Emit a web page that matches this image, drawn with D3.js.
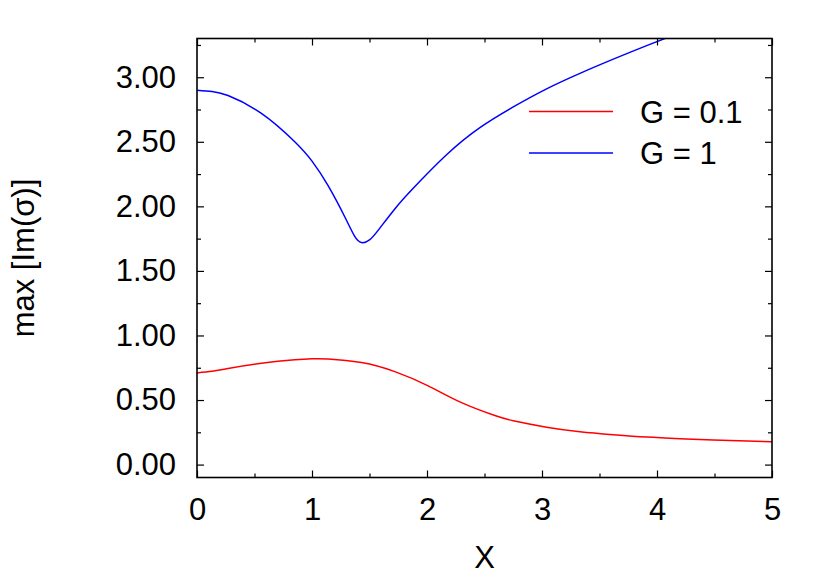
<!DOCTYPE html>
<html>
<head>
<meta charset="utf-8">
<script src="https://cdn.jsdelivr.net/npm/d3@7"></script>
<style>
body { margin: 0; background: #fff; }
svg { display: block; }
text { font-family: "Liberation Sans", Arial, Helvetica, sans-serif; fill: #000; }
</style>
</head>
<body>
<div id="chart"></div>
<script>
// series
var seriesNames = ["G = 0.1", "G = 1"];
var seriesColors = ["#ff0000", "#0000ff"];

var redX = [0, 0.13, 0.27, 0.56, 0.85, 1.0, 1.14, 1.43, 1.72, 2.01, 2.30, 2.59, 2.75, 3.04, 3.33, 3.62, 3.91, 4.20, 4.49, 5.0];
var redY = [0.71, 0.722, 0.745, 0.785, 0.812, 0.82, 0.818, 0.79, 0.72, 0.61, 0.48, 0.38, 0.34, 0.29, 0.255, 0.232, 0.213, 0.20, 0.19, 0.177];

var blueX = [0, 0.13, 0.27, 0.56, 0.85, 1.0, 1.14, 1.29, 1.37, 1.43, 1.50, 1.58, 1.72, 1.88, 2.17, 2.46, 2.75, 3.04, 3.33, 3.62, 3.91, 4.20];
var blueY = [2.90, 2.89, 2.858, 2.72, 2.50, 2.35, 2.16, 1.91, 1.77, 1.72, 1.74, 1.82, 1.98, 2.14, 2.40, 2.61, 2.77, 2.91, 3.03, 3.14, 3.245, 3.345];

var xMajor = [0, 1, 2, 3, 4, 5];
var xMinor = [0.5, 1.5, 2.5, 3.5, 4.5];
var yMajor = [0, 0.5, 1, 1.5, 2, 2.5, 3];
var yMinor = [0.25, 0.75, 1.25, 1.75, 2.25, 2.75, 3.25];

var width = 830, height = 581;
var plotLeft = 197, plotRight = 772, plotTop = 38.5, plotBottom = 477.5;

var svg = d3.select("#chart").append("svg")
    .attr("width", width)
    .attr("height", height);

var x = d3.scaleLinear().domain([0, 5]).range([plotLeft, plotRight]);
var y = d3.scaleLinear().domain([-0.1, 3.3]).range([plotBottom, plotTop]);

svg.append("clipPath").attr("id", "clip")
    .append("rect")
    .attr("x", plotLeft).attr("y", plotTop)
    .attr("width", plotRight - plotLeft).attr("height", plotBottom - plotTop);

var line = d3.line()
    .x(function(d) { return x(d[0]); })
    .y(function(d) { return y(d[1]); })
    .curve(d3.curveNatural);

var series = [d3.zip(redX, redY), d3.zip(blueX, blueY)];

svg.selectAll(".curve")
    .data(series)
    .enter().append("path")
    .attr("class", "curve")
    .attr("clip-path", "url(#clip)")
    .attr("d", line)
    .attr("fill", "none")
    .attr("stroke", function(d, i) { return seriesColors[i]; })
    .attr("stroke-width", 1.5);

// axes: ticks point inwards and are mirrored on the opposite sides
function addAxis(axis, tx, ty) {
    var g = svg.append("g")
        .attr("transform", "translate(" + tx + "," + ty + ")")
        .call(axis);
    g.select(".domain").remove();
    g.selectAll("line").attr("stroke", "#000").attr("stroke-width", 1.2);
    g.selectAll("text").attr("font-size", "31px").attr("fill", "#000").attr("font-family", null);
    return g;
}

addAxis(d3.axisBottom(x).tickValues(xMajor).tickSize(-7).tickPadding(20).tickFormat(d3.format("d")), 0, plotBottom);
addAxis(d3.axisBottom(x).tickValues(xMinor).tickSize(-4).tickFormat(""), 0, plotBottom);
addAxis(d3.axisTop(x).tickValues(xMajor).tickSize(-7).tickFormat(""), 0, plotTop);
addAxis(d3.axisTop(x).tickValues(xMinor).tickSize(-4).tickFormat(""), 0, plotTop);

addAxis(d3.axisLeft(y).tickValues(yMajor).tickSize(-7).tickPadding(21).tickFormat(d3.format(".2f")), plotLeft, 0);
addAxis(d3.axisLeft(y).tickValues(yMinor).tickSize(-4).tickFormat(""), plotLeft, 0);
addAxis(d3.axisRight(y).tickValues(yMajor).tickSize(-7).tickFormat(""), plotRight, 0);
addAxis(d3.axisRight(y).tickValues(yMinor).tickSize(-4).tickFormat(""), plotRight, 0);

svg.append("rect")
    .attr("x", plotLeft).attr("y", plotTop)
    .attr("width", plotRight - plotLeft).attr("height", plotBottom - plotTop)
    .attr("fill", "none")
    .attr("stroke", "#000")
    .attr("stroke-width", 1.6);

// axis titles
svg.append("text")
    .attr("x", (plotLeft + plotRight) / 2)
    .attr("y", 568)
    .attr("text-anchor", "middle")
    .attr("font-size", "31px")
    .text("X");

svg.append("text")
    .attr("transform", "translate(34," + (plotTop + plotBottom) / 2 + ") rotate(-90)")
    .attr("text-anchor", "middle")
    .attr("font-size", "31px")
    .text("max [Im(\u03c3)]");

// legend
var legend = svg.selectAll(".legend")
    .data(seriesNames)
    .enter().append("g")
    .attr("class", "legend")
    .attr("transform", function(d, i) { return "translate(0," + (111.5 + i * 41.5) + ")"; });

legend.append("line")
    .attr("x1", 529).attr("x2", 613)
    .attr("y1", 0).attr("y2", 0)
    .attr("stroke", function(d, i) { return seriesColors[i]; })
    .attr("stroke-width", 1.5);

legend.append("text")
    .attr("x", 640)
    .attr("y", 11)
    .attr("font-size", "31px")
    .text(function(d) { return d; });
</script>
</body>
</html>
